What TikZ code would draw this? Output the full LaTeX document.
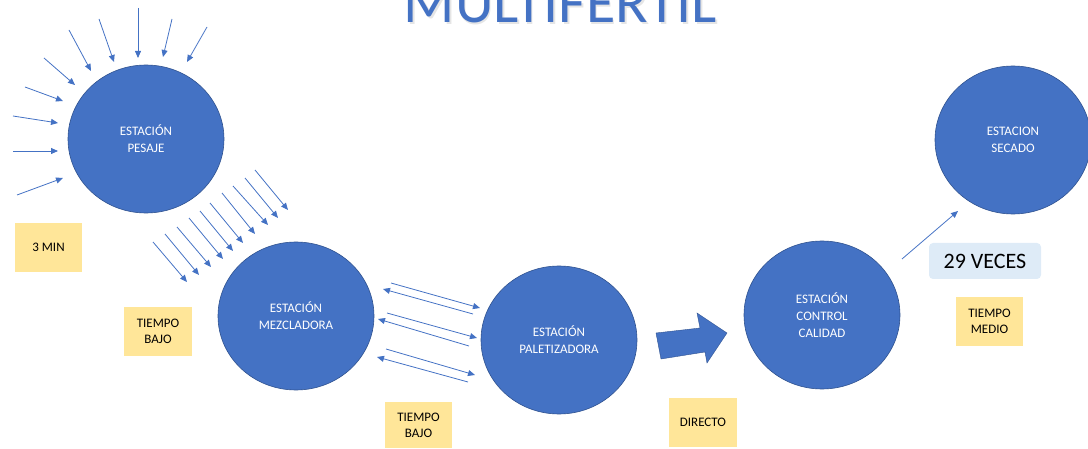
\documentclass[tikz,border=0pt]{standalone}
\usepackage{fontspec}
\setmainfont{Carlito}
\usetikzlibrary{shapes.geometric,arrows.meta}
\definecolor{accent}{HTML}{4472C4}
\definecolor{accentdark}{HTML}{2F528F}
\definecolor{notey}{HTML}{FFE699}
\definecolor{noteb}{HTML}{DEEBF7}
\tikzset{
  station/.style={ellipse, fill=accent, draw=accentdark, line width=0.6pt,
    minimum width=156pt, minimum height=148pt, text=white, align=center,
    font=\fontsize{13}{17}\selectfont},
  note/.style={fill=notey, text=black, align=center, inner sep=0pt,
    font=\fontsize{13}{16}\selectfont},
  ray/.style={draw=accent, line width=0.8pt, -{Triangle[length=7pt,width=6pt]}},
}
\begin{document}
\begin{tikzpicture}[x=1pt,y=-1pt]
\useasboundingbox (0,0) rectangle (1088,449);
\clip (0,0) rectangle (1088,449);
% title
\node[anchor=base, text=gray!20, font=\fontsize{60}{60}\selectfont, inner sep=0pt] at (562,25) {MULTIFERTIL};
\node[anchor=base, text=accent, font=\fontsize{60}{60}\selectfont, inner sep=0pt] (title) at (560.5,23) {MULTIFERTIL};
% stations
\node[station] (pesaje) at (146,139) {ESTACIÓN\\PESAJE};
\node[station] (mezcla) at (296,316) {ESTACIÓN\\MEZCLADORA};
\node[station] (palet) at (559,340) {ESTACIÓN\\PALETIZADORA};
\node[station] (control) at (822,315) {ESTACIÓN\\CONTROL\\CALIDAD};
\node[station] (secado) at (1013,140) {ESTACION\\SECADO};
% notes
\node[note, minimum width=67pt, minimum height=49pt] (n3min) at (48.5,247.5) {3 MIN};
\node[note, minimum width=68pt, minimum height=49pt] (nbajo1) at (158,331.5) {TIEMPO\\BAJO};
\node[note, minimum width=67pt, minimum height=46pt] (nbajo2) at (418.5,425) {TIEMPO\\BAJO};
\node[note, minimum width=68pt, minimum height=49pt] (ndir) at (703,422.5) {DIRECTO};
\node[note, minimum width=67pt, minimum height=49pt] (nmedio) at (989.5,321.5) {TIEMPO\\MEDIO};
\node[fill=noteb, rounded corners=4pt, minimum width=112pt, minimum height=36pt, inner sep=0pt,
  font=\fontsize{22}{24}\selectfont] (veces) at (985,261) {29 VECES};
% rays into pesaje
\foreach \a/\b/\c/\d in {138/8/138/58, 172/19/163/57, 207/27/187/62, 99/19/114/62,
  69/30/91/71, 44/58/75/85, 25/87/63/101, 13/116/58/123, 13/151/58/151, 17/195/63/178}
  \draw[ray] (\a,\b) -- (\c,\d);
% rays between pesaje and mezcladora
\foreach \a/\b/\c/\d in {255/170/288/210, 245/178/278/218, 233/186/268/225, 222/193/255/234,
  210/203/243/243, 200/211/233/251, 189/218/223/259, 177/227/211/267, 165/234/199/275, 153/242/187/282}
  \draw[ray] (\a,\b) -- (\c,\d);
% double arrows mezcladora <-> paletizadora
\draw[ray] (391,283) -- (480,308);
\draw[ray] (473,314) -- (383,289);
\draw[ray] (387,313) -- (477,338);
\draw[ray] (469,346) -- (378,319);
\draw[ray] (386,349) -- (475,375);
\draw[ray] (468,382) -- (377,357);
% control -> secado
\coordinate (cs1) at (902,259);
\coordinate (cs2) at (958,211);
\draw[ray] (cs1) -- (cs2);
% block arrow
\fill[accent, draw=accentdark, line width=0.4pt] (656,333) -- (700,328) -- (697,313) -- (727,333) -- (707,363) -- (705,352) -- (661,359) -- cycle;
\end{tikzpicture}
\end{document}
